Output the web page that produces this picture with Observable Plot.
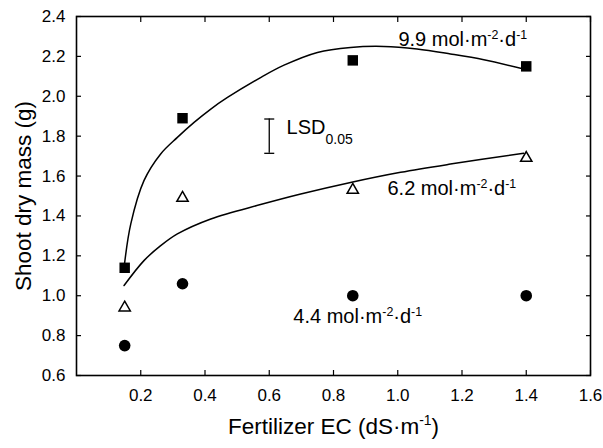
<!DOCTYPE html>
<html>
<head>
<meta charset="utf-8">
<script src="https://cdn.jsdelivr.net/npm/d3@7"></script>
<script src="https://cdn.jsdelivr.net/npm/@observablehq/plot@0.6"></script>
<style>
  body { margin: 0; background: #fff; }
  #chart svg { display: block; }
</style>
</head>
<body>
<div id="chart"></div>
<script>
// ---- data ----
const ecLevels = [0.15, 0.33, 0.86, 1.40];          // Fertilizer EC (dS·m-1)
const mass99 = [1.14, 1.89, 2.18, 2.15];            // 9.9 mol·m-2·d-1 (filled squares)
const mass62 = [0.94, 1.49, 1.53, 1.69];            // 6.2 mol·m-2·d-1 (open triangles)
const mass44 = [0.75, 1.06, 1.00, 1.00];            // 4.4 mol·m-2·d-1 (filled circles)

// fitted curves, points
const curve99X = [0.148, 0.169, 0.21, 0.262, 0.314, 0.366, 0.418, 0.47, 0.573, 0.646, 0.75, 0.853, 0.957, 1.06, 1.164, 1.268, 1.392];
const curve99Y = [1.14, 1.36, 1.577, 1.711, 1.794, 1.869, 1.936, 1.994, 2.094, 2.156, 2.22, 2.245, 2.25, 2.237, 2.212, 2.183, 2.137];
const curve62X = [0.148, 0.21, 0.262, 0.314, 0.418, 0.573, 0.698, 0.853, 1.009, 1.164, 1.392];
const curve62Y = [1.051, 1.176, 1.251, 1.31, 1.385, 1.457, 1.51, 1.568, 1.619, 1.66, 1.714];

// LSD bar
const lsdX = 0.6;
const lsdLow = 1.714;
const lsdHigh = 1.886;

// annotation labels (text, x, y in data units)
const labelTexts = ["9.9 mol·m^{-2}·d^{-1}", "6.2 mol·m^{-2}·d^{-1}", "4.4 mol·m^{-2}·d^{-1}", "LSD_{0.05}"];
const labelX = [1.002, 0.968, 0.675, 0.654];
const labelY = [2.285, 1.535, 0.896, 1.844];

const xTicks = [0.2, 0.4, 0.6, 0.8, 1.0, 1.2, 1.4, 1.6];
const yTicks = [0.6, 0.8, 1.0, 1.2, 1.4, 1.6, 1.8, 2.0, 2.2, 2.4];
const xTitle = "Fertilizer EC (dS·m^{-1})";
const yTitle = "Shoot dry mass (g)";

// ---- tables built from arrays ----
const rows = (ys) => ecLevels.map((x, i) => ({x, y: ys[i]}));
const curveRows = (xs, ys) => xs.map((x, i) => ({x, y: ys[i]}));
const labels = labelTexts.map((t, i) => ({text: t, x: labelX[i], y: labelY[i]}));
const lsd = [{x: lsdX, lo: lsdLow, hi: lsdHigh}];
const lsdEnds = [{x: lsdX, y: lsdLow}, {x: lsdX, y: lsdHigh}];

const capSymbol = {
  draw(context, size) {
    const r = Math.sqrt(size / Math.PI);
    context.moveTo(-r, 0);
    context.lineTo(r, 0);
  }
};

const fmt = d3.format(".1f");

const chart = Plot.plot({
  width: 603,
  height: 448,
  marginLeft: 76,
  marginRight: 13,
  marginTop: 16,
  marginBottom: 73,
  style: {fontFamily: "'Liberation Sans', Arial, sans-serif", fontSize: "17px", color: "black", background: "white", overflow: "visible"},
  x: {domain: [0, 1.6]},
  y: {domain: [0.6, 2.4]},
  marks: [
    Plot.axisX(xTicks, {anchor: "bottom", tickSize: -5, tickPadding: 18, tickFormat: fmt, label: null, fontSize: 17, strokeWidth: 1.2}),
    Plot.axisX(xTicks, {anchor: "top", tickSize: -5, tickFormat: () => "", label: null, strokeWidth: 1.2}),
    Plot.axisY(yTicks, {anchor: "left", tickSize: -5, tickPadding: 16, tickFormat: fmt, label: null, fontSize: 17, strokeWidth: 1.2}),
    Plot.axisY(yTicks, {anchor: "right", tickSize: -5, tickFormat: () => "", label: null, strokeWidth: 1.2}),
    Plot.frame({stroke: "black", strokeWidth: 1.6}),
    Plot.line(curveRows(curve99X, curve99Y), {x: "x", y: "y", curve: "catmull-rom", stroke: "black", strokeWidth: 1.5}),
    Plot.line(curveRows(curve62X, curve62Y), {x: "x", y: "y", curve: "catmull-rom", stroke: "black", strokeWidth: 1.5}),
    Plot.dot(rows(mass99), {x: "x", y: "y", symbol: "square", r: 5.9, fill: "black", stroke: "none"}),
    Plot.dot(rows(mass62), {x: "x", y: "y", symbol: "triangle", r: 4.2, fill: "white", stroke: "black", strokeWidth: 1.5}),
    Plot.dot(rows(mass44), {x: "x", y: "y", symbol: "circle", r: 5.8, fill: "black", stroke: "none"}),
    Plot.ruleX(lsd, {x: "x", y1: "lo", y2: "hi", stroke: "black", strokeWidth: 1.3}),
    Plot.dot(lsdEnds, {x: "x", y: "y", symbol: capSymbol, r: 5, stroke: "black", strokeWidth: 1.3}),
    Plot.text(labels, {x: "x", y: "y", text: "text", textAnchor: "start", lineAnchor: "middle", fontSize: 20, fill: "black"}),
    Plot.text([xTitle], {frameAnchor: "bottom", textAnchor: "middle", dy: 58, fontSize: 22.5, fill: "black"}),
    Plot.text([yTitle], {frameAnchor: "left", textAnchor: "middle", dx: -53, rotate: -90, fontSize: 22.5, fill: "black"})
  ]
});

document.getElementById("chart").appendChild(chart);

// render ^{...} as superscript and _{...} as subscript tspans (real text)
for (const t of chart.querySelectorAll("text")) {
  const s = t.textContent;
  if (!/[\^_]\{/.test(s)) continue;
  const fs = parseFloat(getComputedStyle(t).fontSize) || 16;
  const parts = [];
  const re = /([\^_])\{([^}]*)\}/g;
  let last = 0, m;
  while ((m = re.exec(s))) {
    if (m.index > last) parts.push({kind: "n", str: s.slice(last, m.index)});
    parts.push({kind: m[1] === "^" ? "sup" : "sub", str: m[2]});
    last = re.lastIndex;
  }
  if (last < s.length) parts.push({kind: "n", str: s.slice(last)});
  while (t.firstChild) t.removeChild(t.firstChild);
  let shift = 0;
  const ns = "http://www.w3.org/2000/svg";
  for (const p of parts) {
    const ts = document.createElementNS(ns, "tspan");
    ts.textContent = p.str;
    let target = 0;
    if (p.kind === "sup") { target = -0.36 * fs; ts.setAttribute("font-size", (0.62 * fs).toFixed(1)); }
    if (p.kind === "sub") { target = 0.5 * fs; ts.setAttribute("font-size", (0.7 * fs).toFixed(1)); }
    const dy = target - shift;
    if (dy !== 0) ts.setAttribute("dy", dy.toFixed(2));
    shift = target;
    t.appendChild(ts);
  }
}
</script>
</body>
</html>
